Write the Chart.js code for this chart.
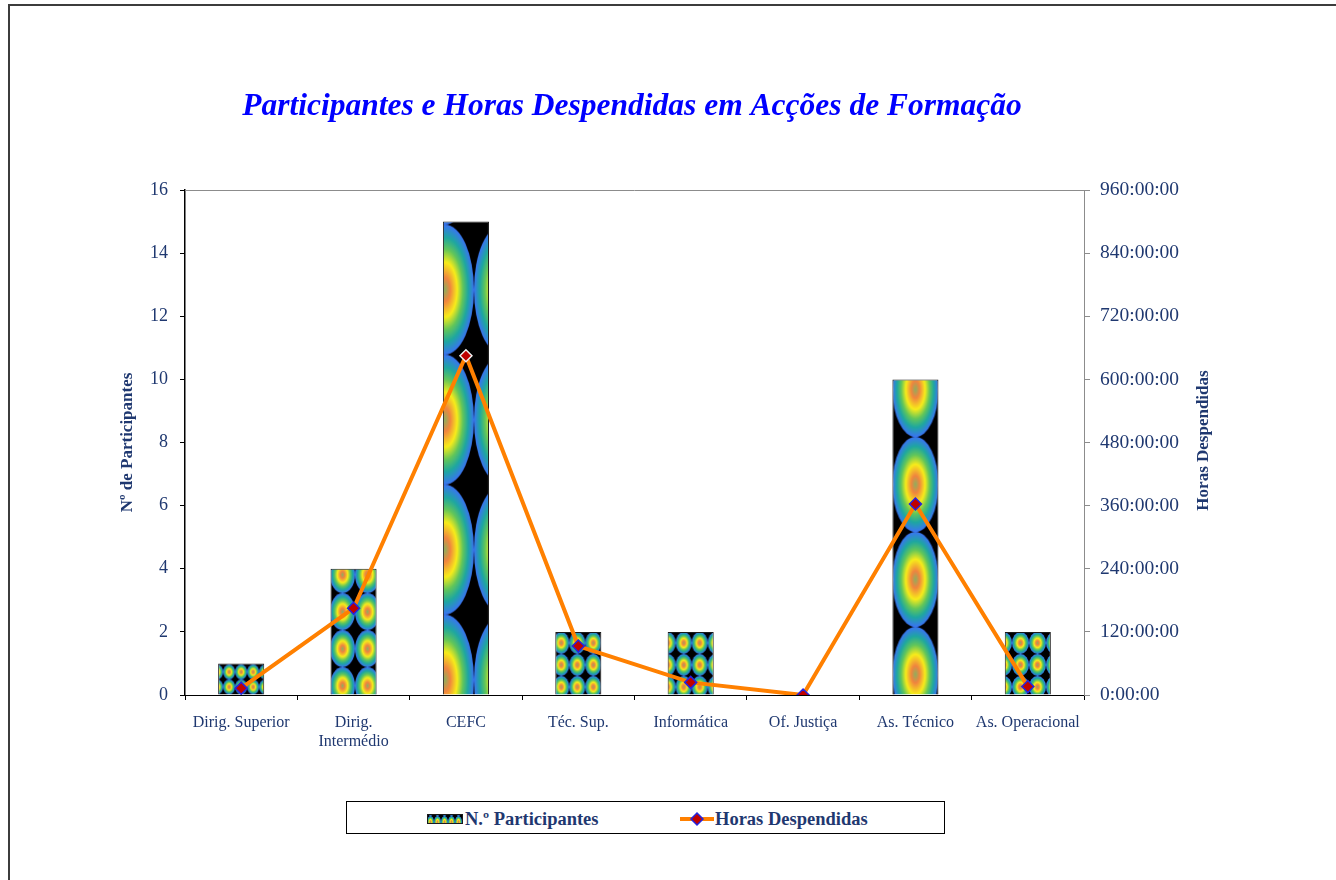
<!DOCTYPE html>
<html>
<head>
<meta charset="utf-8">
<script src="https://cdn.jsdelivr.net/npm/chart.js@4"></script>
<style>
  body { margin: 0; background: #fff; }
  #wrap { position: relative; width: 1336px; height: 880px; overflow: hidden; }
  #frame { position: absolute; left: 8px; top: 4px; width: 1400px; height: 900px;
           border-top: 2px solid #3c3c3c; border-left: 2px solid #3c3c3c; }
  #chart { position: absolute; left: 0; top: 0; }
  #legend { position: absolute; left: 346px; top: 801px; width: 597px; height: 31px;
            border: 1px solid #000; background: #fff;
            font: bold 18.5px 'Liberation Serif', serif; color: #1f3870; }
  #legend canvas { position: absolute; }
  #legend span { position: absolute; top: 7px; white-space: nowrap; }
</style>
</head>
<body>
<div id="wrap">
  <div id="frame"></div>
  <canvas id="chart" width="1336" height="880"></canvas>
  <div id="legend">
    <canvas id="swBar" width="36" height="10" style="left:80px; top:12px;"></canvas>
    <span style="left:118px;">N.º Participantes</span>
    <canvas id="swLine" width="34" height="16" style="left:333px; top:9px;"></canvas>
    <span style="left:368px;">Horas Despendidas</span>
  </div>
</div>
<script>
// -------- DATA --------
const categories = ['Dirig. Superior', ['Dirig.', 'Intermédio'], 'CEFC', 'Téc. Sup.', 'Informática', 'Of. Justiça', 'As. Técnico', 'As. Operacional'];
const participantes = [1, 4, 15, 2, 2, 0, 10, 2];
const horas = [13, 165, 645, 93, 24, 0, 363, 16];   // hours
const leftTicks = [0, 2, 4, 6, 8, 10, 12, 14, 16];
const rightTicks = [0, 120, 240, 360, 480, 600, 720, 840, 960];

// tile look of the picture fill for each bar: tile w/h and where a centre sits (from bar left/top)
const tileStyle = [
    { w: 12, h: 15, cx: 11, cy: 8.5 },
    { w: 25, h: 37, cx: 12, cy: 6 },
    { w: 58, h: 130, cx: 2, cy: 68 },
    { w: 16, h: 22, cx: 6, cy: 11 },
    { w: 16, h: 22, cx: 0, cy: 11 },
    { w: 16, h: 22, cx: 8, cy: 11 },
    { w: 46, h: 95, cx: 23, cy: 10 },
    { w: 16.5, h: 22, cx: 15.7, cy: 11 }
];

const navy = '#1f3870';
const serif = "'Liberation Serif', 'Times New Roman', serif";

function makeTile(w, h) {
    const c = document.createElement('canvas');
    c.width = Math.round(w); c.height = Math.round(h);
    const g = c.getContext('2d');
    g.fillStyle = '#000';
    g.fillRect(0, 0, c.width, c.height);
    g.save();
    g.translate(c.width / 2, c.height / 2);
    g.scale(c.width / 2, c.height / 2);
    const grad = g.createRadialGradient(0, 0, 0, 0, 0, 1);
    grad.addColorStop(0, '#8fae5e');
    grad.addColorStop(0.18, '#f0843f');
    grad.addColorStop(0.42, '#f7ec1a');
    grad.addColorStop(0.62, '#62c65a');
    grad.addColorStop(0.8, '#1ea7a0');
    grad.addColorStop(1, '#3a74f2');
    g.fillStyle = grad;
    g.beginPath();
    g.arc(0, 0, 1, 0, Math.PI * 2);
    g.fill();
    g.restore();
    return c;
}

const tiles = tileStyle.map(t => makeTile(t.w, t.h));

function barFill(c) {
    if (c.type !== 'data') return '#3a74f2';
    const chart = c.chart;
    const xs = chart.scales.x, ys = chart.scales.y;
    if (!xs || !ys || !chart.chartArea) return '#3a74f2';
    const i = c.dataIndex;
    const t = tileStyle[i];
    const bw = xs.width / categories.length * 0.41;
    const left = xs.getPixelForValue(i) - bw / 2;
    const top = ys.getPixelForValue(participantes[i]);
    const pat = chart.ctx.createPattern(tiles[i], 'repeat');
    const ox = left + t.cx - tiles[i].width / 2;
    const oy = top + t.cy - tiles[i].height / 2;
    pat.setTransform(new DOMMatrix().translate(ox, oy));
    return pat;
}

function hhmmss(v) {
    return v === 0 ? '0:00:00' : v + ':00:00';
}

// right axis title reads bottom-to-top, draw it by hand
const rightTitle = {
    id: 'rightTitle',
    afterDraw(chart) {
        const ctx = chart.ctx;
        const a = chart.chartArea;
        ctx.save();
        ctx.translate(1204, (a.top + a.bottom) / 2 - 2);
        ctx.rotate(-Math.PI / 2);
        ctx.font = 'bold 17px ' + serif;
        ctx.fillStyle = navy;
        ctx.textAlign = 'center';
        ctx.textBaseline = 'middle';
        ctx.fillText('Horas Despendidas', 0, 0);
        ctx.restore();
    }
};

// top plot frame line is grey
const plotFrame = {
    id: 'plotFrame',
    beforeDatasetsDraw(chart) {
        const ctx = chart.ctx;
        const a = chart.chartArea;
        ctx.save();
        ctx.strokeStyle = '#8c8c8c';
        ctx.lineWidth = 1;
        ctx.beginPath();
        ctx.moveTo(a.left, a.top + 0.5);
        ctx.lineTo(a.right, a.top + 0.5);
        ctx.stroke();
        ctx.restore();
    }
};

new Chart(document.getElementById('chart'), {
    data: {
        labels: categories,
        datasets: [
            {
                type: 'line',
                label: 'Horas Despendidas',
                data: horas,
                yAxisID: 'y1',
                borderColor: '#ff8000',
                borderWidth: 4,
                tension: 0,
                pointStyle: 'rectRot',
                pointRadius: 6,
                pointHoverRadius: 6,
                pointBackgroundColor: '#c00000',
                pointBorderColor: ['#2424e0', '#2424e0', '#f0f0f0', '#2424e0', '#2424e0', '#2424e0', '#2424e0', '#2424e0'],
                pointBorderWidth: 1.5,
                order: 0
            },
            {
                type: 'bar',
                label: 'N.º Participantes',
                data: participantes,
                yAxisID: 'y',
                backgroundColor: barFill,
                borderColor: '#1a1a1a',
                borderWidth: 1,
                categoryPercentage: 1,
                barPercentage: 0.41,
                order: 1
            }
        ]
    },
    options: {
        responsive: false,
        animation: false,
        events: [],
        layout: { padding: { left: 0, right: 72, top: 0, bottom: 0 } },
        plugins: {
            legend: { display: false },
            tooltip: { enabled: false },
            title: {
                display: true,
                text: 'Participantes e Horas Despendidas em Acções de Formação',
                color: '#0000ff',
                font: { family: serif, size: 31.5, style: 'italic', weight: 'bold' },
                padding: { top: 88, bottom: 64.2 }
            }
        },
        scales: {
            x: {
                offset: true,
                grid: { display: true, offset: true, drawOnChartArea: false, tickLength: 5, color: '#000' },
                border: { display: true, color: '#000', width: 1 },
                ticks: { color: navy, font: { family: serif, size: 16 }, padding: 13, maxRotation: 0, autoSkip: false },
                afterFit(s) { s.height = 185; }
            },
            y: {
                position: 'left',
                min: 0, max: 16,
                afterBuildTicks(s) { s.ticks = leftTicks.map(v => ({ value: v })); },
                grid: { drawOnChartArea: false, tickLength: 5, color: '#000' },
                border: { display: true, color: '#000', width: 1.5 },
                ticks: { color: navy, font: { family: serif, size: 18 }, padding: 12 },
                title: {
                    display: true, text: 'Nº de Participantes', color: navy,
                    font: { family: serif, size: 17, weight: 'bold' }, padding: { top: 117, bottom: 0 }
                },
                afterFit(s) { s.width = 185; }
            },
            y1: {
                position: 'right',
                min: 0, max: 960,
                afterBuildTicks(s) { s.ticks = rightTicks.map(v => ({ value: v })); },
                grid: { drawOnChartArea: false, tickLength: 6, color: '#8c8c8c' },
                border: { display: true, color: '#8c8c8c', width: 1 },
                ticks: { color: navy, font: { family: serif, size: 19.5 }, padding: 10, callback: v => hhmmss(v) },
                afterFit(s) { s.width = 180; }
            }
        }
    },
    plugins: [rightTitle, plotFrame]
});

// -------- LEGEND SWATCHES --------
(function () {
    const sb = document.getElementById('swBar').getContext('2d');
    const p = sb.createPattern(makeTile(7, 12), 'repeat');
    p.setTransform(new DOMMatrix().translate(0, 2));
    sb.fillStyle = p;
    sb.fillRect(0, 0, 36, 10);
    sb.strokeStyle = '#1a1a1a';
    sb.strokeRect(0.5, 0.5, 35, 9);

    const sl = document.getElementById('swLine').getContext('2d');
    sl.strokeStyle = '#ff8000';
    sl.lineWidth = 4;
    sl.beginPath(); sl.moveTo(0, 8); sl.lineTo(34, 8); sl.stroke();
    sl.fillStyle = '#c00000';
    sl.strokeStyle = '#2424e0';
    sl.lineWidth = 1.5;
    sl.beginPath();
    sl.moveTo(17, 2); sl.lineTo(23, 8); sl.lineTo(17, 14); sl.lineTo(11, 8); sl.closePath();
    sl.fill(); sl.stroke();
})();
</script>
</body>
</html>
